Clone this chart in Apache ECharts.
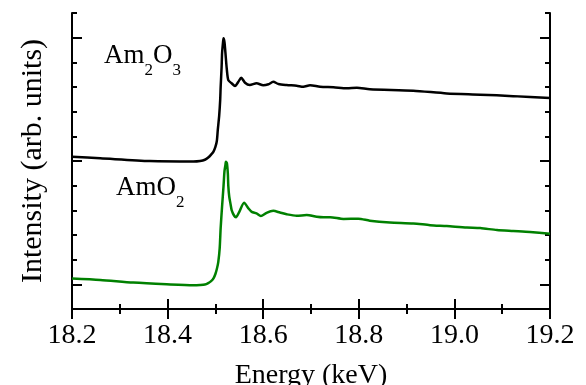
<!DOCTYPE html>
<html>
<head>
<meta charset="utf-8">
<script src="https://cdn.jsdelivr.net/npm/echarts@6/dist/echarts.min.js"></script>
<style>html,body{margin:0;padding:0;background:#fff;}#c{width:586px;height:385px;}</style>
</head>
<body>
<div id="c"></div>
<script>
// Am2O3 spectrum (black)
var energyAm2O3 = [18.200,18.259,18.363,18.454,18.468,18.478,18.485,18.491,18.496,18.500,18.503,18.505,18.508,18.510,18.511,18.513,18.514,18.516,18.517,18.519,18.521,18.524,18.527,18.534,18.541,18.548,18.554,18.562,18.572,18.586,18.600,18.611,18.621,18.632,18.649,18.670,18.684,18.698,18.719,18.747,18.775,18.796,18.823,18.914,18.984,19.054,19.123,19.200];
var intensityAm2O3 = [6.17,6.11,6.00,5.98,6.00,6.05,6.14,6.26,6.38,6.57,6.81,7.26,7.86,8.47,9.00,9.81,10.38,10.82,10.98,10.82,10.38,9.69,9.28,9.15,9.04,9.21,9.38,9.17,9.08,9.15,9.07,9.11,9.21,9.12,9.08,9.05,9.01,9.07,9.01,8.99,8.95,8.97,8.91,8.85,8.74,8.69,8.63,8.55];
// AmO2 spectrum (green)
var energyAmO2 = [18.200,18.259,18.328,18.398,18.454,18.468,18.478,18.485,18.491,18.496,18.500,18.503,18.506,18.509,18.511,18.514,18.517,18.519,18.521,18.522,18.524,18.526,18.527,18.529,18.532,18.534,18.539,18.543,18.550,18.560,18.569,18.576,18.586,18.595,18.607,18.621,18.635,18.649,18.670,18.691,18.712,18.726,18.740,18.768,18.799,18.823,18.865,18.914,18.949,18.984,19.026,19.054,19.089,19.123,19.158,19.200];
var intensityAmO2 = [1.24,1.18,1.07,1.00,0.96,0.97,0.99,1.05,1.13,1.24,1.42,1.62,1.90,2.47,3.28,4.17,4.98,5.59,5.84,5.97,5.92,5.50,4.99,4.55,4.22,4.01,3.79,3.72,3.94,4.31,4.08,3.94,3.88,3.77,3.90,3.98,3.91,3.84,3.78,3.81,3.74,3.72,3.72,3.65,3.66,3.58,3.51,3.47,3.40,3.36,3.30,3.28,3.20,3.16,3.12,3.05];
var yMajorTicks = [1, 6, 11];
var xMin = 18.2, xMax = 19.2, xStep = 0.2;
var yMin = 0, yMax = 12, yStep = 1;

var FONT = "'Liberation Serif','Times New Roman',serif";
function pairs(xs, ys){ return xs.map(function(x,i){ return [x, ys[i]]; }); }

var chart = echarts.init(document.getElementById('c'), null, {renderer:'canvas'});

function xAxisCfg(pos, labels){
  return {
    type:'value', min:xMin, max:xMax, interval:xStep, position:pos,
    axisLine:{show:true, lineStyle:{color:'#000', width:2}},
    axisTick:{show:true, inside:true, length:10, lineStyle:{color:'#000', width:2}},
    minorTick:{show:true, splitNumber:2, length:5, lineStyle:{color:'#000', width:2}},
    axisLabel:{show:labels, fontFamily:FONT, fontSize:28, color:'#000', margin:13,
      formatter:function(v){ return v.toFixed(1); }},
    splitLine:{show:false}, minorSplitLine:{show:false},
    name: labels ? 'Energy (keV)' : '', nameLocation:'middle', nameGap:53,
    nameTextStyle:{fontFamily:FONT, fontSize:28, color:'#000'}
  };
}
function yAxisShort(pos, withName){
  return {
    type:'value', min:yMin, max:yMax, interval:yStep, position:pos,
    axisLine:{show:true, lineStyle:{color:'#000', width:2}},
    axisTick:{show:true, inside:true, length:5, lineStyle:{color:'#000', width:2}},
    axisLabel:{show:false}, splitLine:{show:false},
    name: withName ? 'Intensity (arb. units)' : '', nameLocation:'middle', nameGap:24,
    nameTextStyle:{fontFamily:FONT, fontSize:30, color:'#000'}
  };
}
function yAxisLong(pos){
  return {
    type:'value', min:yMin, max:yMax, position:pos,
    axisLine:{show:false},
    axisTick:{show:true, inside:true, length:10, customValues:yMajorTicks, lineStyle:{color:'#000', width:2}},
    axisLabel:{show:false}, splitLine:{show:false}
  };
}

chart.setOption({
  animation:false,
  backgroundColor:'#fff',
  grid:{left:72, right:36, top:13, bottom:76, containLabel:false, outerBoundsMode:'none'},
  xAxis:[xAxisCfg('bottom', true), xAxisCfg('top', false)],
  yAxis:[yAxisShort('left', true), yAxisLong('left'), yAxisShort('right', false), yAxisLong('right')],
  series:[
    {type:'line', name:'Am2O3', xAxisIndex:0, yAxisIndex:0, data:pairs(energyAm2O3, intensityAm2O3),
      showSymbol:false, smooth:0.25, lineStyle:{color:'#000', width:2.5}, itemStyle:{color:'#000'}},
    {type:'line', name:'AmO2', xAxisIndex:0, yAxisIndex:0, data:pairs(energyAmO2, intensityAmO2),
      showSymbol:false, smooth:0.25, lineStyle:{color:'#008000', width:2.5}, itemStyle:{color:'#008000'}}
  ],
  graphic:[
    {type:'text', x:104, y:42, style:{text:'{a|Am}{s|2}{a|O}{s|3}', rich:{
      a:{fontFamily:FONT, fontSize:27, lineHeight:27, verticalAlign:'top', fill:'#000'},
      s:{fontFamily:FONT, fontSize:17, lineHeight:17, verticalAlign:'top', padding:[20,0,0,0], fill:'#000'}}}},
    {type:'text', x:116, y:174.5, style:{text:'{a|AmO}{s|2}', rich:{
      a:{fontFamily:FONT, fontSize:27, lineHeight:27, verticalAlign:'top', fill:'#000'},
      s:{fontFamily:FONT, fontSize:17, lineHeight:17, verticalAlign:'top', padding:[20,0,0,0], fill:'#000'}}}}
  ]
});
</script>
</body>
</html>
